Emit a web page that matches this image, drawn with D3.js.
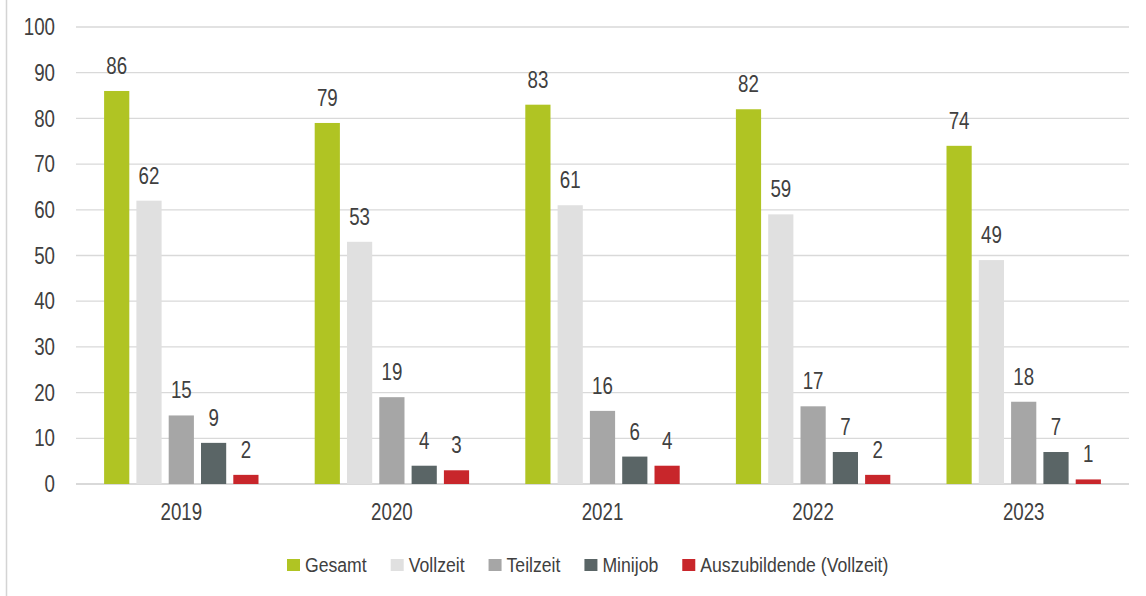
<!DOCTYPE html>
<html>
<head>
<meta charset="utf-8">
<script src="https://cdn.jsdelivr.net/npm/d3@7"></script>
<style>
  body { margin: 0; background: #fff; }
  svg { display: block; }
  text { font-family: "Liberation Sans", Arial, sans-serif; fill: #404040; }
</style>
</head>
<body>
<div id="chart"></div>
<script>
const years = ["2019", "2020", "2021", "2022", "2023"];
const series = ["Gesamt", "Vollzeit", "Teilzeit", "Minijob", "Auszubildende (Vollzeit)"];
const gesamt = [86, 79, 83, 82, 74];
const vollzeit = [62, 53, 61, 59, 49];
const teilzeit = [15, 19, 16, 17, 18];
const minijob = [9, 4, 6, 7, 7];
const azubis = [2, 3, 4, 2, 1];
const colors = ["#b0c423", "#e0e0e0", "#a6a6a6", "#5a6566", "#c8262b"];
const yTicks = [0, 10, 20, 30, 40, 50, 60, 70, 80, 90, 100];

const values = [gesamt, vollzeit, teilzeit, minijob, azubis];

const width = 1146, height = 596;
const margin = {top: 27, right: 17, bottom: 112, left: 76};
const innerW = width - margin.left - margin.right;
const innerH = height - margin.top - margin.bottom;

// the original font is a condensed face, squeeze the glyphs horizontally
const numSize = 24, numSqueeze = 0.78;
const legSize = 21, legSqueeze = 0.84;

const svg = d3.select("#chart").append("svg")
    .attr("width", width)
    .attr("height", height);

// frame line on the left
svg.append("line")
    .attr("x1", 6.5).attr("x2", 6.5)
    .attr("y1", 0).attr("y2", height)
    .attr("stroke", "#d4d4d4")
    .attr("stroke-width", 1.5);

const g = svg.append("g")
    .attr("transform", "translate(" + margin.left + "," + margin.top + ")");

const x0 = d3.scaleBand().domain(years).range([0, innerW]).padding(0);
const groupW = 154.4;
const x1 = d3.scaleBand().domain(series)
    .range([(x0.bandwidth() - groupW) / 2, (x0.bandwidth() + groupW) / 2])
    .paddingInner(0.22).paddingOuter(0);
const y = d3.scaleLinear().domain([0, 100]).range([innerH, 0]);
const color = d3.scaleOrdinal().domain(series).range(colors);

// gridlines
g.append("g")
    .selectAll("line")
    .data(yTicks)
    .join("line")
    .attr("x1", 0).attr("x2", innerW)
    .attr("y1", d => y(d)).attr("y2", d => y(d))
    .attr("stroke", "#d9d9d9")
    .attr("stroke-width", d => d === 0 ? 2 : 1.3);

// y axis labels
const yAxis = g.append("g")
    .call(d3.axisLeft(y).tickValues(yTicks).tickSize(0));
yAxis.select(".domain").remove();
yAxis.selectAll("text")
    .attr("x", 0)
    .attr("transform", "translate(-21,0) scale(" + numSqueeze + ",1)")
    .style("font-size", numSize + "px")
    .style("font-family", "'Liberation Sans', Arial, sans-serif")
    .attr("fill", "#404040");

// x axis labels
const xAxis = g.append("g")
    .attr("transform", "translate(0," + innerH + ")")
    .call(d3.axisBottom(x0).tickSize(0).tickPadding(19));
xAxis.select(".domain").remove();
xAxis.selectAll("text")
    .attr("transform", "scale(" + numSqueeze + ",1)")
    .style("font-size", numSize + "px")
    .style("font-family", "'Liberation Sans', Arial, sans-serif")
    .attr("fill", "#404040");

// bars
const rows = years.map((yr, i) => ({
    year: yr,
    items: series.map((s, j) => ({ key: s, value: values[j][i] }))
}));

const groups = g.append("g")
    .selectAll("g")
    .data(rows)
    .join("g")
    .attr("transform", d => "translate(" + x0(d.year) + ",0)");

groups.selectAll("rect")
    .data(d => d.items)
    .join("rect")
    .attr("x", d => x1(d.key))
    .attr("y", d => y(d.value))
    .attr("width", x1.bandwidth())
    .attr("height", d => y(0) - y(d.value))
    .attr("fill", d => color(d.key));

groups.selectAll("text")
    .data(d => d.items)
    .join("text")
    .attr("transform", d => "translate(" + (x1(d.key) + x1.bandwidth() / 2) + "," + (y(d.value) - 17) + ") scale(" + numSqueeze + ",1)")
    .attr("text-anchor", "middle")
    .style("font-size", numSize + "px")
    .text(d => d.value);

// legend
const legend = svg.append("g")
    .attr("transform", "translate(287,565)");
let lx = 0;
series.forEach((s, i) => {
    const item = legend.append("g").attr("transform", "translate(" + lx + ",0)");
    item.append("rect")
        .attr("x", 0).attr("y", -6)
        .attr("width", 13).attr("height", 12)
        .attr("fill", color(s));
    const t = item.append("text")
        .attr("transform", "translate(18,0) scale(" + legSqueeze + ",1)")
        .attr("dy", "0.35em")
        .style("font-size", legSize + "px")
        .text(s);
    const w = t.node().getComputedTextLength() * legSqueeze;
    lx += 18 + w + 24;
});
</script>
</body>
</html>
